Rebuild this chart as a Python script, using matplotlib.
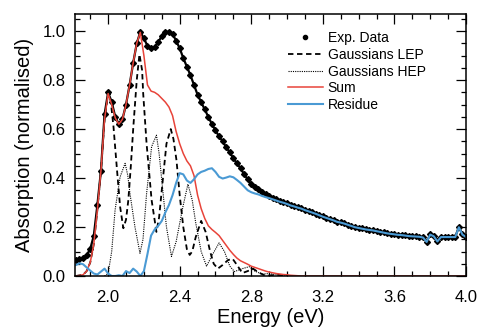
import numpy as np
import matplotlib
matplotlib.use('Agg')
import matplotlib.pyplot as plt
from matplotlib.ticker import MultipleLocator, FormatStrFormatter

plt.rcParams['font.family'] = ['Liberation Sans', 'DejaVu Sans']

# datos experimentales (paso de 0.02 eV)
e_exp = np.round(np.arange(1.82, 4.001, 0.02), 2)
a_exp = [0.065, 0.068, 0.072, 0.085, 0.11, 0.165, 0.29, 0.43, 0.66, 0.75,
         0.71, 0.65, 0.62, 0.64, 0.70, 0.78, 0.87, 0.95, 0.997, 0.97,
         0.94, 0.93, 0.935, 0.955, 0.98, 0.995, 0.998, 0.99, 0.96, 0.93,
         0.89, 0.855, 0.82, 0.78, 0.74, 0.71, 0.68, 0.65, 0.62, 0.595,
         0.57, 0.55, 0.525, 0.505, 0.48, 0.46, 0.44, 0.415, 0.395, 0.375,
         0.365, 0.355, 0.345, 0.335, 0.327, 0.32, 0.313, 0.307, 0.302, 0.297,
         0.29, 0.285, 0.28, 0.276, 0.27, 0.265, 0.26, 0.255, 0.249, 0.243,
         0.238, 0.233, 0.228, 0.222, 0.219, 0.215, 0.21, 0.205, 0.2, 0.197,
         0.194, 0.191, 0.189, 0.187, 0.184, 0.181, 0.178, 0.175, 0.173, 0.171,
         0.169, 0.168, 0.166, 0.164, 0.163, 0.162, 0.161, 0.158, 0.14, 0.17,
         0.163, 0.142, 0.16, 0.16, 0.16, 0.16, 0.16, 0.2, 0.17, 0.16]

# residuo
a_res = [0.045, 0.052, 0.048, 0.035, 0.022, 0.01, 0.006, 0.018, 0.03, 0.01,
         0.0, 0.0, 0.003, 0.0, 0.02, 0.012, 0.03, 0.018, 0.0, 0.02,
         0.09, 0.165, 0.19, 0.205, 0.225, 0.26, 0.29, 0.33, 0.38, 0.42,
         0.415, 0.39, 0.38, 0.395, 0.415, 0.425, 0.43, 0.437, 0.44, 0.425,
         0.405, 0.398, 0.402, 0.407, 0.403, 0.392, 0.38, 0.365, 0.35, 0.342,
         0.337, 0.333, 0.327, 0.322, 0.318, 0.313, 0.308, 0.303, 0.299, 0.294,
         0.288, 0.284, 0.279, 0.275, 0.269, 0.264, 0.259, 0.254, 0.248, 0.242,
         0.237, 0.232, 0.227, 0.221, 0.218, 0.214, 0.209, 0.204, 0.199, 0.196,
         0.193, 0.19, 0.188, 0.186, 0.183, 0.18, 0.177, 0.174, 0.172, 0.17,
         0.168, 0.167, 0.165, 0.163, 0.162, 0.161, 0.16, 0.157, 0.139, 0.169,
         0.162, 0.141, 0.159, 0.159, 0.159, 0.159, 0.159, 0.199, 0.169, 0.159]

# suma de gaussianas
e_sum = [1.82, 1.84, 1.86, 1.88, 1.90, 1.92, 1.94, 1.96, 1.98, 2.00,
         2.02, 2.04, 2.06, 2.08, 2.10, 2.12, 2.14, 2.16, 2.18, 2.20,
         2.22, 2.24, 2.26, 2.28, 2.30, 2.32, 2.34, 2.36, 2.38, 2.40,
         2.42, 2.44, 2.46, 2.48, 2.50, 2.52, 2.54, 2.56, 2.58, 2.60,
         2.62, 2.64, 2.66, 2.68, 2.70, 2.72, 2.74, 2.76, 2.78, 2.80,
         2.82, 2.84, 2.86, 2.88, 2.90, 2.92, 2.94, 2.96, 2.98, 3.00,
         3.02, 3.04, 3.06, 3.08, 4.00]
a_sum = [0.0, 0.002, 0.005, 0.02, 0.055, 0.13, 0.27, 0.43, 0.64, 0.745,
         0.70, 0.645, 0.62, 0.64, 0.70, 0.78, 0.87, 0.95, 0.995, 0.90,
         0.78, 0.755, 0.75, 0.74, 0.725, 0.71, 0.69, 0.655, 0.59, 0.54,
         0.50, 0.47, 0.45, 0.41, 0.33, 0.275, 0.235, 0.205, 0.19, 0.178,
         0.165, 0.145, 0.125, 0.105, 0.088, 0.073, 0.062, 0.055, 0.048, 0.04,
         0.035, 0.03, 0.025, 0.02, 0.016, 0.013, 0.01, 0.008, 0.006, 0.005,
         0.003, 0.002, 0.001, 0.0, 0.0]

# gaussianas LEP
e_lep = [1.82, 1.86, 1.88, 1.90, 1.92, 1.94, 1.96, 1.98, 2.00, 2.01,
         2.03, 2.05, 2.067, 2.085, 2.10, 2.113, 2.127, 2.141, 2.16, 2.175,
         2.19, 2.196, 2.215, 2.243, 2.27, 2.285, 2.298, 2.326, 2.35, 2.365,
         2.382, 2.40, 2.42, 2.44, 2.456, 2.47, 2.49, 2.52, 2.545, 2.57,
         2.59, 2.613, 2.64, 2.67, 2.696, 2.72, 2.75, 2.78, 2.81, 2.84,
         2.87, 2.90, 2.95, 3.00]
a_lep = [0.0, 0.005, 0.02, 0.055, 0.13, 0.27, 0.43, 0.64, 0.745, 0.745,
         0.61, 0.43, 0.283, 0.195, 0.23, 0.31, 0.45, 0.61, 0.80, 0.905,
         0.84, 0.745, 0.54, 0.31, 0.18, 0.24, 0.337, 0.54, 0.60, 0.56,
         0.473, 0.33, 0.20, 0.11, 0.086, 0.10, 0.16, 0.225, 0.18, 0.10,
         0.05, 0.03, 0.045, 0.065, 0.07, 0.045, 0.012, 0.02, 0.03, 0.015,
         0.004, 0.002, 0.005, 0.0]

# gaussianas HEP
e_hep = [1.98, 2.00, 2.02, 2.039, 2.067, 2.095, 2.11, 2.122, 2.15, 2.178,
         2.195, 2.215, 2.243, 2.27, 2.285, 2.298, 2.326, 2.354, 2.38, 2.418,
         2.446, 2.47, 2.49, 2.52, 2.55, 2.585, 2.62, 2.65, 2.68, 2.706,
         2.75, 2.789, 2.82, 2.86, 2.90, 2.95, 3.00]
a_hep = [0.0, 0.01, 0.10, 0.27, 0.405, 0.46, 0.41, 0.337, 0.20, 0.093,
         0.15, 0.337, 0.528, 0.575, 0.50, 0.405, 0.20, 0.08, 0.14, 0.283,
         0.375, 0.31, 0.215, 0.10, 0.04, 0.09, 0.135, 0.10, 0.04, 0.018,
         0.03, 0.038, 0.02, 0.008, 0.01, 0.004, 0.0]

fig = plt.figure(figsize=(4.79, 3.33), dpi=100)
ax = fig.add_axes([0.1566, 0.1712, 0.8163, 0.7868])

# puntos experimentales: linea fina detras + marcadores
ax.plot(e_exp, a_exp, color='black', linewidth=1.6)
ax.plot(e_exp, a_exp, linestyle='none', marker='D', markersize=3.0,
        color='black', label='Exp. Data')
ax.plot(e_lep, a_lep, color='black', linestyle=(0, (3, 2)), linewidth=1.3,
        label='Gaussians LEP')
ax.plot(e_hep, a_hep, color='black', linestyle=(0, (1, 1)), linewidth=0.8,
        label='Gaussians HEP')
ax.plot(e_sum, a_sum, color='#e8443a', linewidth=1.1, label='Sum')
ax.plot(e_exp, a_res, color='#4a9ad4', linewidth=1.5, label='Residue')

ax.set_xlim(1.815, 4.0)
ax.set_ylim(0.0, 1.07)
ax.xaxis.set_major_locator(MultipleLocator(0.4))
ax.xaxis.set_minor_locator(MultipleLocator(0.1))
ax.yaxis.set_major_locator(MultipleLocator(0.2))
ax.yaxis.set_minor_locator(MultipleLocator(0.05))
ax.xaxis.set_major_formatter(FormatStrFormatter('%.1f'))
ax.yaxis.set_major_formatter(FormatStrFormatter('%.1f'))
ax.tick_params(which='both', direction='in', top=True, right=True, width=0.9)
ax.tick_params(which='major', length=7, labelsize=12, colors='black')
ax.tick_params(which='minor', length=3.5)
ax.tick_params(axis='y', which='major', pad=7)
ax.tick_params(axis='x', which='major', pad=10)
for s in ax.spines.values():
    s.set_linewidth(1.1)

ax.set_xlabel('Energy (eV)', fontsize=14.5, labelpad=2)
ax.set_ylabel('Absorption (normalised)', fontsize=14.5, labelpad=6)

leg = ax.legend(loc='upper left', bbox_to_anchor=(0.545, 0.935), frameon=False,
                fontsize=10, handlelength=2.5, handletextpad=0.35,
                labelspacing=0.2, borderpad=0, borderaxespad=0)
leg.legend_handles[0].set_marker('o')
leg.legend_handles[0].set_markersize(3)

fig.savefig('out.png', dpi=100)
